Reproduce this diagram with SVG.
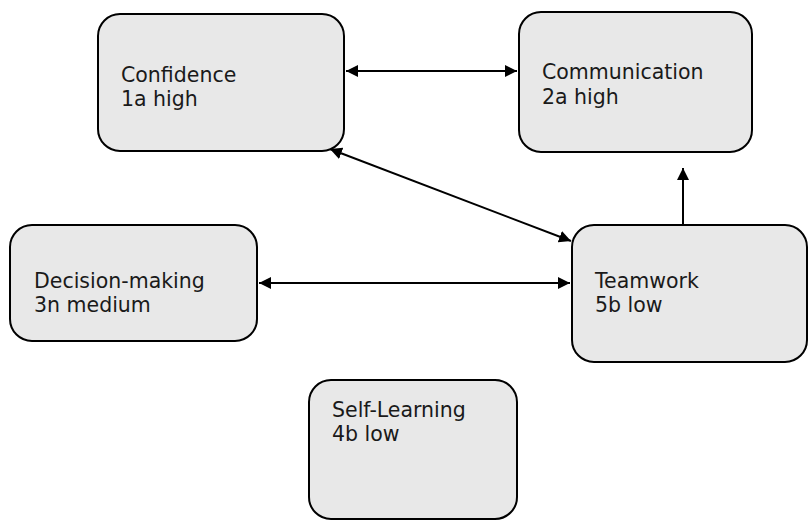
<svg xmlns="http://www.w3.org/2000/svg" width="808" height="520" viewBox="0 0 808 520">
<style>
.box{fill:#e8e8e8;stroke:#000;stroke-width:2}
.t{font-family:"DejaVu Sans",Verdana,sans-serif;font-size:20.5px;fill:#1a1a1a}
.c{fill:none;stroke:#000;stroke-width:2}
</style>
<defs>
<marker id="ah" viewBox="0 0 10 10" refX="10" refY="5" markerWidth="6" markerHeight="6" orient="auto-start-reverse" markerUnits="strokeWidth">
<path d="M0,0 L10,5 L0,10 z" fill="#000"/>
</marker>
</defs>
<rect width="808" height="520" fill="#fff"/>
<g id="connectors">
<line class="c" x1="346" y1="71" x2="517" y2="71" marker-start="url(#ah)" marker-end="url(#ah)"/>
<line class="c" x1="330" y1="149" x2="571" y2="241" marker-start="url(#ah)" marker-end="url(#ah)"/>
<line class="c" x1="259" y1="283" x2="570" y2="283" marker-start="url(#ah)" marker-end="url(#ah)"/>
<line class="c" x1="683" y1="225" x2="683" y2="168" marker-end="url(#ah)"/>
</g>
<g id="confidence">
<rect class="box" x="98" y="14" width="246" height="137" rx="22"/>
<text class="t" x="121" y="82">Confidence</text>
<text class="t" x="121" y="106">1a high</text>
</g>
<g id="communication">
<rect class="box" x="519" y="12" width="233" height="140" rx="22"/>
<text class="t" x="542" y="79">Communication</text>
<text class="t" x="542" y="104">2a high</text>
</g>
<g id="decision">
<rect class="box" x="10" y="225" width="247" height="116" rx="22"/>
<text class="t" x="34" y="288">Decision-making</text>
<text class="t" x="34" y="312">3n medium</text>
</g>
<g id="teamwork">
<rect class="box" x="572" y="225" width="235" height="137" rx="22"/>
<text class="t" x="595" y="288">Teamwork</text>
<text class="t" x="595" y="312">5b low</text>
</g>
<g id="selflearning">
<rect class="box" x="309" y="380" width="208" height="139" rx="22"/>
<text class="t" x="332" y="417">Self-Learning</text>
<text class="t" x="332" y="441">4b low</text>
</g>
</svg>
